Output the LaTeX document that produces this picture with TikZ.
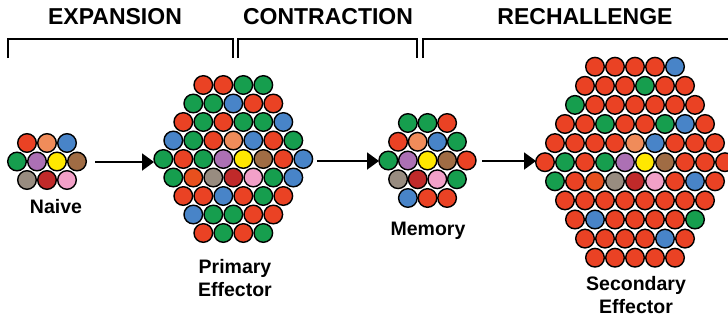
\documentclass[tikz,border=0pt]{standalone}
\usepackage{fontspec}
\setmainfont{Liberation Sans}
\usetikzlibrary{arrows.meta}
\definecolor{cR}{RGB}{234,66,36}
\definecolor{cG}{RGB}{22,158,78}
\definecolor{cB}{RGB}{72,132,200}
\definecolor{cS}{RGB}{240,140,90}
\definecolor{cP}{RGB}{172,112,180}
\definecolor{cY}{RGB}{255,232,0}
\definecolor{cW}{RGB}{160,108,68}
\definecolor{cA}{RGB}{152,140,128}
\definecolor{cD}{RGB}{192,42,42}
\definecolor{cK}{RGB}{242,160,200}
\definecolor{cO}{RGB}{232,80,30}
\newcommand{\cellcluster}[5]{%
  \foreach \rowcols [count=\rw] in {#5} {
    \foreach \cc [count=\ii] in \rowcols {\xdef\rownum{\ii}}
    \foreach \cc [count=\ii] in \rowcols {
      \draw[cell, fill=c\cc] ({#1+(\ii-(\rownum+1)/2)*#3}, {#2+(\rw-1)*#4}) circle[radius=9.3pt];
    }
  }
}
\begin{document}
\begin{tikzpicture}[x=1pt,y=-1pt,
  cell/.style={draw=black, line width=1.4pt},
  brk/.style={draw=black, line width=2pt, line join=miter},
  arr/.style={draw=black, line width=2pt, -{Triangle[length=12pt,width=17pt]}},
  hdr/.style={font=\fontsize{23}{26}\selectfont\bfseries, inner sep=0pt},
  lbl/.style={font=\fontsize{19.5}{22.5}\selectfont\bfseries, inner sep=0pt, align=center}]
\useasboundingbox (0,0) rectangle (728,322);
\clip (0,0) rectangle (728,322);
\fill[white] (0,0) rectangle (728,322);
% headers
\node[hdr, anchor=base] (hexp) at (115,24.5) {EXPANSION};
\node[hdr, anchor=base] (hcon) at (328,24.5) {CONTRACTION};
\node[hdr, anchor=base] (hrec) at (585,24.5) {RECHALLENGE};
% brackets
\draw[brk] (8,58) -- (8,39) -- (233,39) -- (233,58);
\draw[brk] (238,58) -- (238,39) -- (417,39) -- (417,58);
\draw[brk] (423,58) -- (423,39) -- (732,39);
% naive
\cellcluster{47}{143}{20}{18.5}{{R,S,B},{G,P,Y,W},{A,D,K}}
% primary effector
\cellcluster{233.3}{85}{20}{18.5}{%
  {R,R,G,G},
  {G,G,B,R,R},
  {R,G,R,G,G,B},
  {B,G,R,S,B,R,G},
  {G,R,G,P,Y,W,R,B},
  {G,O,A,D,K,G,B},
  {R,R,B,R,G,R},
  {B,G,G,R,R},
  {R,G,R,G}}
% memory
\cellcluster{427.5}{123}{19.6}{18.75}{%
  {G,G,R},
  {R,S,B,G},
  {G,P,Y,W,R},
  {A,D,K,G},
  {B,R,R}}
% secondary effector
\cellcluster{635}{66.7}{20}{19.1}{%
  {R,R,R,R,B},
  {R,R,R,G,R,R},
  {G,R,R,R,R,R,R},
  {R,R,G,R,R,G,B,R},
  {R,R,R,R,S,B,R,R,R},
  {R,G,R,G,P,Y,W,R,R,R},
  {G,R,O,A,D,K,R,B,R},
  {R,R,R,R,R,R,R,R},
  {R,B,R,R,R,R,G},
  {R,R,R,R,B,R},
  {R,R,R,R,R}}
% arrow end points
\coordinate (naiveE) at (95,162);
\coordinate (primW) at (154,162);
\coordinate (primE) at (317,161);
\coordinate (memW) at (379,161);
\coordinate (memE) at (482,161);
\coordinate (secW) at (536,161);
\draw[arr] (naiveE) -- (primW);
\draw[arr] (primE) -- (memW);
\draw[arr] (memE) -- (secW);
% labels
\node[lbl, anchor=base] (lnaive) at (56,213) {Naive};
\node[lbl, anchor=north] (lprim) at (235,259.5) {Primary\\Effector};
\node[lbl, anchor=base] (lmem) at (428,235) {Memory};
\node[lbl, anchor=north] (lsec) at (636,276.5) {Secondary\\Effector};
\end{tikzpicture}
\end{document}
